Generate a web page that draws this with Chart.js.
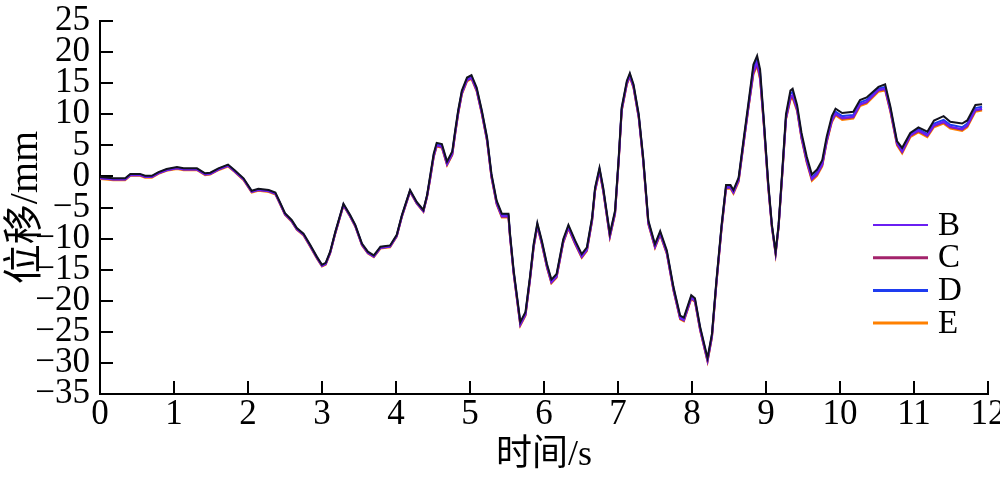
<!DOCTYPE html>
<html>
<head>
<meta charset="utf-8">
<script src="https://cdn.jsdelivr.net/npm/chart.js@4.4.0/dist/chart.umd.min.js"></script>
<style>
  html, body { margin: 0; padding: 0; background: #fff; }
  canvas { display: block; }
</style>
</head>
<body>
<canvas id="dispChart" width="1000" height="477"></canvas>
<script>
// time axis (s)
const times = [0, 0.18, 0.34, 0.41, 0.54, 0.61, 0.70, 0.79, 0.90, 1.04, 1.13, 1.31, 1.42, 1.49, 1.60, 1.73, 1.82, 1.94, 2.05, 2.14,
  2.28, 2.37, 2.43, 2.50, 2.59, 2.66, 2.75, 2.84, 2.93, 3.00, 3.05, 3.11, 3.18, 3.29, 3.38, 3.45, 3.54, 3.62, 3.70, 3.79,
  3.92, 4.01, 4.08, 4.19, 4.28, 4.37, 4.42,
  4.46, 4.51, 4.55, 4.62, 4.69, 4.76, 4.80, 4.84, 4.89, 4.96, 5.02, 5.09, 5.16, 5.23, 5.29, 5.36, 5.43, 5.52, 5.54, 5.59,
  5.68, 5.75, 5.81, 5.86, 5.91, 5.97, 6.04, 6.10, 6.17, 6.26, 6.33, 6.42, 6.51, 6.58, 6.65, 6.69, 6.75, 6.80, 6.89, 6.96,
  7.01, 7.05, 7.12, 7.16, 7.21, 7.28, 7.34, 7.41, 7.50, 7.57, 7.66, 7.75, 7.84, 7.89, 7.99, 8.04, 8.11, 8.21, 8.27, 8.33,
  8.40, 8.46,
  8.52, 8.56, 8.63, 8.70, 8.76, 8.83, 8.88, 8.92, 8.97, 9.03, 9.08, 9.13, 9.17, 9.22, 9.27, 9.33, 9.36, 9.42, 9.48, 9.55,
  9.62, 9.69, 9.76, 9.82, 9.89, 9.94, 10.03, 10.18, 10.27, 10.36, 10.52, 10.61, 10.68, 10.77, 10.84, 10.95, 11.06, 11.18, 11.27, 11.40,
  11.49, 11.65, 11.72, 11.83, 11.92];

// dark trace drawn over the others in the original (no legend entry)
const dispTop = [-0.1, -0.3, -0.3, 0.4, 0.4, 0.1, 0.1, 0.7, 1.2, 1.5, 1.3, 1.3, 0.5, 0.6, 1.3, 1.9, 1.0, -0.3, -2.3, -2.0,
  -2.2, -2.6, -4.1, -5.9, -7.0, -8.3, -9.2, -11.0, -12.9, -14.2, -13.9, -12.1, -8.9, -4.4, -6.2, -7.8, -10.8, -12.1, -12.7, -11.3,
  -11.1, -9.4, -6.2, -2.2, -4.1, -5.4, -3.0,
  0.0, 3.7, 5.4, 5.2, 2.4, 4.0, 7.4, 10.6, 13.8, 15.9, 16.3, 14.3, 10.6, 6.3, 0.4, -3.9, -6.0, -6.0, -9.1, -15.1,
  -23.4, -21.8, -16.2, -10.9, -7.5, -10.3, -14.1, -16.6, -15.7, -10.1, -7.8, -10.3, -12.5, -11.4, -6.6, -1.8, 1.4, -1.8, -9.2, -5.5,
  3.1, 11.1, 15.4, 16.6, 14.8, 10.0, 3.1, -7.1, -10.9, -8.8, -11.9, -17.8, -22.4, -22.7, -19.1, -19.6, -24.2, -29.2, -25.3, -16.7,
  -7.8, -1.4,
  -1.4, -2.2, -0.2, 6.2, 11.6, 18.0, 19.4, 17.2, 9.2, -1.0, -7.8, -12.1, -7.8, 1.0, 10.0, 13.8, 14.1, 11.5, 7.0, 3.2,
  0.3, 1.1, 2.6, 6.4, 9.7, 10.9, 10.2, 10.4, 12.3, 12.7, 14.4, 14.8, 11.3, 5.7, 4.6, 7.0, 7.9, 7.2, 9.0, 9.7,
  8.8, 8.5, 9.0, 11.5, 11.6];

// displacement (mm) per case
const dispB = [-0.3, -0.5, -0.5, 0.2, 0.2, -0.1, -0.1, 0.5, 1.0, 1.3, 1.1, 1.1, 0.3, 0.4, 1.1, 1.7, 0.8, -0.5, -2.5, -2.2,
  -2.4, -2.8, -4.3, -6.1, -7.2, -8.5, -9.4, -11.2, -13.1, -14.4, -14.1, -12.3, -9.1, -4.6, -6.4, -8.0, -11.0, -12.3, -12.9, -11.5,
  -11.3, -9.6, -6.4, -2.4, -4.3, -5.6, -3.2,
  -0.4, 3.3, 5.0, 4.8, 2.0, 3.6, 7.0, 10.2, 13.4, 15.5, 15.9, 13.9, 10.2, 5.9, 0.0, -4.3, -6.4, -6.4, -9.5, -15.5,
  -23.8, -22.2, -16.6, -11.3, -7.9, -10.7, -14.5, -17.0, -16.1, -10.5, -8.2, -10.7, -12.9, -11.8, -7.0, -2.2, 1.0, -2.2, -9.6, -5.9,
  2.7, 10.7, 15.0, 16.2, 14.4, 9.6, 2.7, -7.5, -11.3, -9.2, -12.3, -18.2, -22.8, -23.1, -19.5, -20.0, -24.6, -29.6, -25.7, -17.1,
  -8.2, -1.8,
  -1.8, -2.6, -0.6, 5.6, 10.9, 16.9, 18.3, 16.1, 8.6, -1.5, -8.1, -12.4, -8.1, 0.4, 9.3, 12.8, 13.1, 10.8, 6.3, 2.5,
  -0.4, 0.4, 1.9, 5.7, 9.0, 10.1, 9.4, 9.6, 11.6, 12.0, 13.9, 14.1, 10.7, 5.3, 4.0, 6.6, 7.4, 6.6, 8.2, 8.8,
  8.0, 7.6, 8.2, 10.7, 10.9];

const dispC = [-0.3, -0.5, -0.5, 0.2, 0.2, -0.1, -0.1, 0.5, 1.0, 1.3, 1.1, 1.1, 0.3, 0.4, 1.1, 1.7, 0.8, -0.5, -2.5, -2.2,
  -2.4, -2.8, -4.3, -6.1, -7.2, -8.5, -9.4, -11.2, -13.1, -14.4, -14.1, -12.3, -9.1, -4.6, -6.4, -8.0, -11.0, -12.3, -12.9, -11.5,
  -11.3, -9.6, -6.4, -2.4, -4.3, -5.6, -3.2,
  -0.5, 3.2, 4.9, 4.7, 1.9, 3.5, 6.9, 10.1, 13.3, 15.4, 15.8, 13.8, 10.1, 5.8, -0.1, -4.4, -6.5, -6.5, -9.6, -15.6,
  -23.9, -22.3, -16.7, -11.4, -8.0, -10.8, -14.6, -17.1, -16.2, -10.6, -8.3, -10.8, -13.0, -11.9, -7.1, -2.3, 0.9, -2.3, -9.7, -6.0,
  2.6, 10.6, 14.9, 16.1, 14.3, 9.5, 2.6, -7.6, -11.4, -9.3, -12.4, -18.3, -22.9, -23.2, -19.6, -20.1, -24.7, -29.7, -25.8, -17.2,
  -8.3, -1.9,
  -1.8, -2.6, -0.7, 5.6, 10.9, 16.6, 18.0, 15.8, 8.5, -1.6, -8.1, -12.4, -8.1, 0.4, 9.3, 12.5, 12.8, 10.7, 6.2, 2.4,
  -0.5, 0.3, 1.8, 5.6, 8.9, 10.0, 9.3, 9.5, 11.5, 11.9, 13.8, 14.0, 10.6, 5.2, 3.9, 6.5, 7.3, 6.5, 8.1, 8.7,
  7.9, 7.5, 8.1, 10.6, 10.8];

const dispD = [-0.2, -0.4, -0.4, 0.3, 0.3, 0.0, 0.0, 0.6, 1.1, 1.4, 1.2, 1.2, 0.4, 0.5, 1.2, 1.8, 0.9, -0.4, -2.4, -2.1,
  -2.3, -2.7, -4.2, -6.0, -7.1, -8.4, -9.3, -11.1, -13.0, -14.3, -14.0, -12.2, -9.0, -4.5, -6.3, -7.9, -10.9, -12.2, -12.8, -11.4,
  -11.2, -9.5, -6.3, -2.3, -4.2, -5.5, -3.1,
  -0.2, 3.5, 5.2, 5.0, 2.2, 3.8, 7.2, 10.4, 13.6, 15.7, 16.1, 14.1, 10.4, 6.1, 0.2, -4.1, -6.2, -6.2, -9.3, -15.3,
  -23.6, -22.0, -16.4, -11.1, -7.7, -10.5, -14.3, -16.8, -15.9, -10.3, -8.0, -10.5, -12.7, -11.6, -6.8, -2.0, 1.2, -2.0, -9.4, -5.7,
  2.9, 10.9, 15.2, 16.4, 14.6, 9.8, 2.9, -7.3, -11.1, -9.0, -12.1, -18.0, -22.6, -22.9, -19.3, -19.8, -24.4, -29.4, -25.5, -16.9,
  -8.0, -1.6,
  -1.6, -2.4, -0.4, 5.9, 11.2, 17.5, 18.9, 16.7, 8.9, -1.3, -8.0, -12.3, -8.0, 0.7, 9.6, 13.3, 13.6, 11.1, 6.6, 2.8,
  -0.2, 0.7, 2.2, 6.0, 9.3, 10.4, 9.7, 9.9, 11.9, 12.3, 14.1, 14.4, 11.0, 5.5, 4.2, 6.8, 7.6, 6.8, 8.5, 9.1,
  8.3, 7.9, 8.5, 11.0, 11.2];

const dispE = [-0.4, -0.6, -0.6, 0.1, 0.1, -0.2, -0.2, 0.4, 0.9, 1.2, 1.0, 1.0, 0.2, 0.3, 1.0, 1.6, 0.7, -0.6, -2.6, -2.3,
  -2.5, -2.9, -4.4, -6.2, -7.3, -8.6, -9.5, -11.3, -13.2, -14.5, -14.2, -12.4, -9.2, -4.7, -6.5, -8.1, -11.1, -12.4, -13.0, -11.6,
  -11.4, -9.7, -6.5, -2.5, -4.4, -5.7, -3.3,
  -0.6, 3.1, 4.8, 4.6, 1.8, 3.4, 6.8, 10.0, 13.2, 15.3, 15.7, 13.7, 10.0, 5.7, -0.2, -4.5, -6.6, -6.6, -9.7, -15.7,
  -24.0, -22.4, -16.8, -11.5, -8.1, -10.9, -14.7, -17.2, -16.3, -10.7, -8.4, -10.9, -13.1, -12.0, -7.2, -2.4, 0.8, -2.4, -9.8, -6.1,
  2.5, 10.5, 14.8, 16.0, 14.2, 9.4, 2.5, -7.7, -11.5, -9.4, -12.5, -18.4, -23.0, -23.3, -19.7, -20.2, -24.8, -29.8, -25.9, -17.3,
  -8.4, -2.0,
  -2.0, -2.8, -0.9, 5.4, 10.7, 16.4, 17.8, 15.6, 8.3, -1.8, -8.3, -12.6, -8.3, 0.2, 9.1, 12.3, 12.6, 10.5, 6.0, 2.2,
  -0.7, 0.1, 1.6, 5.4, 8.7, 9.8, 9.1, 9.3, 11.3, 11.7, 13.6, 13.8, 10.4, 5.0, 3.7, 6.3, 7.1, 6.3, 7.9, 8.5,
  7.7, 7.3, 7.9, 10.4, 10.6];

const seriesNames = ["", "B", "C", "D", "E"];
const seriesColors = ["#12121e", "#6a1ff2", "#a3236b", "#1e3cf0", "#ff8000"];
const seriesValues = [dispTop, dispB, dispC, dispD, dispE];

const serif = "'Liberation Serif', 'Times New Roman', 'Noto Sans CJK SC', serif";
const minus = v => String(v).replace("-", "\u2212");

// ticks pointing into the plot, like the original
const inwardTicks = {
  id: "inwardTicks",
  beforeDatasetsDraw(chart) {
    const ctx = chart.ctx;
    const area = chart.chartArea;
    const xs = chart.scales.x, ys = chart.scales.y;
    ctx.save();
    ctx.strokeStyle = "#000";
    ctx.lineWidth = 2;
    ctx.beginPath();
    xs.ticks.forEach(t => {
      const px = Math.round(xs.getPixelForValue(t.value));
      ctx.moveTo(px, area.bottom);
      ctx.lineTo(px, area.bottom - 13);
    });
    ys.ticks.forEach(t => {
      const py = Math.round(ys.getPixelForValue(t.value));
      ctx.moveTo(area.left, py);
      ctx.lineTo(area.left + 13, py);
    });
    ctx.stroke();
    ctx.restore();
  }
};

// legend in the lower right of the plot
const sideLegend = {
  id: "sideLegend",
  afterDraw(chart) {
    const ctx = chart.ctx;
    ctx.save();
    ctx.font = "33px " + serif;
    ctx.textBaseline = "middle";
    ctx.fillStyle = "#000";
    const items = chart.data.datasets.filter(ds => ds.label);
    items.forEach((ds, i) => {
      const y = 225 + i * 32.7;
      ctx.strokeStyle = ds.borderColor;
      ctx.lineWidth = i === 0 ? 2 : 3;
      ctx.beginPath();
      ctx.moveTo(873, y);
      ctx.lineTo(928, y);
      ctx.stroke();
      ctx.fillText(ds.label, 938, y + 1);
    });
    ctx.restore();
  }
};

new Chart(document.getElementById("dispChart"), {
  type: "line",
  data: {
    datasets: seriesNames.map((name, i) => ({
      label: name,
      data: times.map((t, k) => ({ x: t, y: seriesValues[i][k] })),
      borderColor: seriesColors[i],
      borderWidth: 2,
      pointRadius: 0,
      tension: 0,
      fill: false
    }))
  },
  options: {
    responsive: false,
    devicePixelRatio: 1,
    animation: false,
    layout: { padding: { top: 21, right: 12, left: 0, bottom: 0 } },
    plugins: {
      legend: { display: false },
      tooltip: { enabled: false }
    },
    scales: {
      x: {
        type: "linear",
        min: 0,
        max: 12,
        ticks: { stepSize: 1, autoSkip: false, color: "#000", padding: 0, maxRotation: 0, font: { family: serif, size: 35 } },
        grid: { display: true, drawOnChartArea: false, drawTicks: false },
        border: { display: true, color: "#000", width: 2 },
        title: { display: true, text: "时间/s", color: "#000", padding: { top: 0, bottom: 0 }, font: { family: serif, size: 36 } },
        afterFit(s) { s.height = 83; s.paddingLeft = 0; s.paddingRight = 0; }
      },
      y: {
        min: -35,
        max: 25,
        ticks: { stepSize: 5, autoSkip: false, color: "#000", padding: 10, font: { family: serif, size: 35 }, callback: v => minus(v) },
        grid: { display: true, drawOnChartArea: false, drawTicks: false },
        border: { display: true, color: "#000", width: 2 },
        title: { display: true, text: "位移/mm", color: "#000", padding: { top: 2, bottom: 0 }, font: { family: serif, size: 40 } },
        afterFit(s) { s.width = 100; s.paddingTop = 0; s.paddingBottom = 0; }
      }
    }
  },
  plugins: [inwardTicks, sideLegend]
});
</script>
</body>
</html>
